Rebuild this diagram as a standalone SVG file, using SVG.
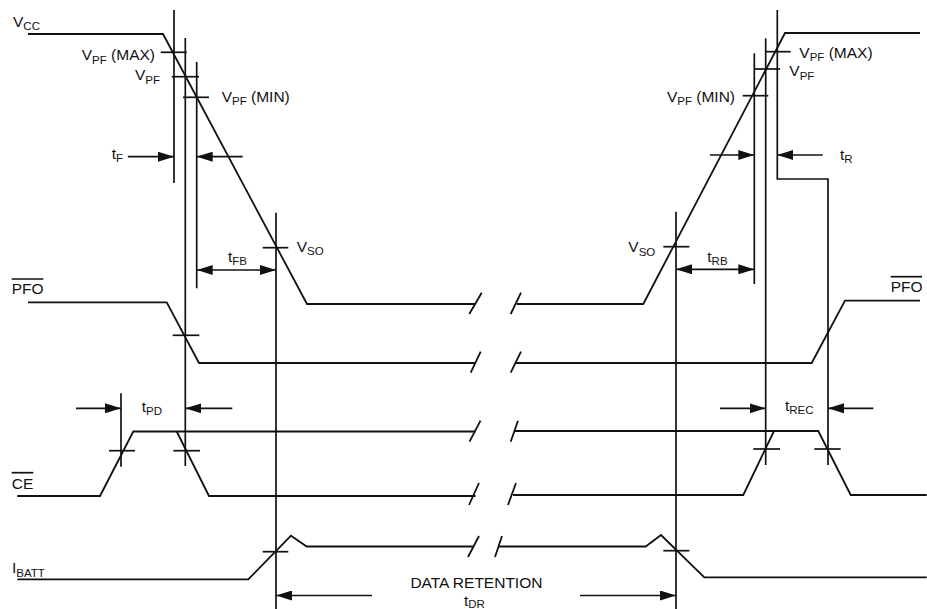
<svg xmlns="http://www.w3.org/2000/svg" width="927" height="609" viewBox="0 0 927 609">
<style>
.s{fill:none;stroke:#111;stroke-width:1.8;stroke-linejoin:miter}
.r{fill:none;stroke:#111;stroke-width:1.7}
.t{font-family:"Liberation Sans",Arial,sans-serif;font-size:15.5px;fill:#111}
.sub{font-size:11.5px}
.ar{fill:none;stroke:#111;stroke-width:1.7}
</style>
<defs>
<marker id="ah" viewBox="0 0 16 10" refX="16" refY="5" markerWidth="16" markerHeight="10" markerUnits="userSpaceOnUse" orient="auto-start-reverse">
<path d="M0,0 L16,5 L0,10 z" fill="#111"/>
</marker>
</defs>
<rect width="927" height="609" fill="#fff"/>

<g id="vcc">
<polyline class="s" points="28,34 163,34 307,304 475,304"/>
<line class="s" x1="469.3" y1="314" x2="481.7" y2="292.7"/>
<line class="s" x1="510.7" y1="314" x2="521" y2="292.7"/>
<polyline class="s" points="516.7,304 643.3,304 785,33 920,33"/>
<text class="t" x="13" y="26.5">V<tspan class="sub" dy="3.5">CC</tspan></text>
</g>

<g id="pfo">
<polyline class="s" points="28,302.3 166.7,302.3 199,363 476,363"/>
<line class="s" x1="470.7" y1="372.7" x2="480.7" y2="351.7"/>
<line class="s" x1="510.7" y1="372.7" x2="521" y2="351.7"/>
<polyline class="s" points="516,363 811.7,363 845,300.7 920,300.7"/>
<text class="t" x="11.7" y="294">PFO</text>
<line class="r" x1="11.7" y1="279" x2="43.3" y2="279"/>
<text class="t" x="890.7" y="291.7">PFO</text>
<line class="r" x1="890.7" y1="276.7" x2="922" y2="276.7"/>
</g>

<g id="ce">
<polyline class="s" points="17.3,496 100,496 133.3,431.5 475.5,431.5"/>
<polyline class="s" points="176.7,431.5 209,496 475.5,496"/>
<line class="s" x1="469.5" y1="441.7" x2="480.5" y2="420.7"/>
<line class="s" x1="510.7" y1="441.7" x2="518" y2="420.7"/>
<line class="s" x1="469" y1="505" x2="479" y2="483"/>
<line class="s" x1="508" y1="505" x2="516" y2="483"/>
<polyline class="s" points="514.5,431 818.3,431 850.7,495 926.7,495"/>
<polyline class="s" points="513,495 743.3,495 774,431"/>
<text class="t" x="11.7" y="488.5">CE</text>
<line class="r" x1="11.7" y1="472.7" x2="33.3" y2="472.7"/>
</g>

<g id="ibatt">
<polyline class="s" points="17.3,579.3 248.3,579.3 291,535.7 306.7,546.5 473.5,546.5"/>
<line class="s" x1="468" y1="557" x2="479" y2="536"/>
<line class="s" x1="495" y1="557" x2="502" y2="536"/>
<polyline class="s" points="498.5,546.5 645.7,546.5 661,535 704.3,577.3 926.7,577.3"/>
<text class="t" x="12" y="573">I<tspan class="sub" dy="3.5">BATT</tspan></text>
</g>

<g id="connectors">
<line class="r" x1="174" y1="10" x2="174" y2="183"/>
<line class="r" x1="185.3" y1="38" x2="185.3" y2="466"/>
<line class="r" x1="196.7" y1="62" x2="196.7" y2="288.3"/>
<line class="r" x1="276" y1="212.7" x2="276" y2="609"/>
<line class="r" x1="121" y1="393.3" x2="121" y2="466.7"/>
<polyline class="r" points="777.3,10 777.3,179 828,179 828,465"/>
<line class="r" x1="765.7" y1="38.3" x2="765.7" y2="465"/>
<line class="r" x1="754.3" y1="53.3" x2="754.3" y2="284"/>
<line class="r" x1="676" y1="211.7" x2="676" y2="609"/>
<line class="r" x1="160.7" y1="52.3" x2="186.7" y2="52.3"/>
<line class="r" x1="171.7" y1="76.7" x2="199" y2="76.7"/>
<line class="r" x1="183" y1="97.3" x2="209" y2="97.3"/>
<line class="r" x1="262.7" y1="247.7" x2="288.3" y2="247.7"/>
<line class="r" x1="172.7" y1="335.3" x2="199.3" y2="335.3"/>
<line class="r" x1="109" y1="450.7" x2="135" y2="450.7"/>
<line class="r" x1="173.3" y1="450.7" x2="200" y2="450.7"/>
<line class="r" x1="262.7" y1="551.7" x2="288.3" y2="551.7"/>
<line class="r" x1="765.7" y1="51.7" x2="790.7" y2="51.7"/>
<line class="r" x1="755" y1="69" x2="780" y2="69"/>
<line class="r" x1="742.7" y1="95.7" x2="768.3" y2="95.7"/>
<line class="r" x1="663.3" y1="246.7" x2="689.3" y2="246.7"/>
<line class="r" x1="753.3" y1="449" x2="780" y2="449"/>
<line class="r" x1="814.3" y1="449" x2="840.7" y2="449"/>
<line class="r" x1="663.3" y1="550.7" x2="689.3" y2="550.7"/>
<line class="ar" x1="128" y1="156.7" x2="174" y2="156.7" marker-end="url(#ah)"/>
<line class="ar" x1="242.7" y1="156.7" x2="196.7" y2="156.7" marker-end="url(#ah)"/>
<line class="ar" x1="196.7" y1="270" x2="276" y2="270" marker-start="url(#ah)" marker-end="url(#ah)"/>
<line class="ar" x1="76" y1="408.3" x2="121" y2="408.3" marker-end="url(#ah)"/>
<line class="ar" x1="232.3" y1="408.3" x2="185.3" y2="408.3" marker-end="url(#ah)"/>
<line class="ar" x1="710" y1="155" x2="754.3" y2="155" marker-end="url(#ah)"/>
<line class="ar" x1="822.7" y1="155" x2="777.3" y2="155" marker-end="url(#ah)"/>
<line class="ar" x1="676" y1="269.3" x2="754.3" y2="269.3" marker-start="url(#ah)" marker-end="url(#ah)"/>
<line class="ar" x1="720" y1="408.3" x2="765.7" y2="408.3" marker-end="url(#ah)"/>
<line class="ar" x1="873.3" y1="408.3" x2="828" y2="408.3" marker-end="url(#ah)"/>
<line class="ar" x1="372" y1="595.5" x2="276" y2="595.5" marker-end="url(#ah)"/>
<line class="ar" x1="580" y1="595.5" x2="676" y2="595.5" marker-end="url(#ah)"/>
</g>

<g id="labels">
<text class="t" x="155" y="60" text-anchor="end">V<tspan class="sub" dy="3.5">PF</tspan><tspan dy="-3.5"> (MAX)</tspan></text>
<text class="t" x="160" y="80" text-anchor="end">V<tspan class="sub" dy="3.5">PF</tspan></text>
<text class="t" x="221.7" y="101.7">V<tspan class="sub" dy="3.5">PF</tspan><tspan dy="-3.5"> (MIN)</tspan></text>
<text class="t" x="111.7" y="159">t<tspan class="sub" dy="3">F</tspan></text>
<text class="t" x="296.7" y="251.5">V<tspan class="sub" dy="3.5">SO</tspan></text>
<text class="t" x="228" y="261.5">t<tspan class="sub" dy="3">FB</tspan></text>
<text class="t" x="141.7" y="411.5">t<tspan class="sub" dy="3">PD</tspan></text>
<text class="t" x="799.3" y="57.5">V<tspan class="sub" dy="3.5">PF</tspan><tspan dy="-3.5"> (MAX)</tspan></text>
<text class="t" x="789.3" y="76">V<tspan class="sub" dy="3.5">PF</tspan></text>
<text class="t" x="735" y="101.7" text-anchor="end">V<tspan class="sub" dy="3.5">PF</tspan><tspan dy="-3.5"> (MIN)</tspan></text>
<text class="t" x="840" y="160">t<tspan class="sub" dy="3">R</tspan></text>
<text class="t" x="628.3" y="252">V<tspan class="sub" dy="3.5">SO</tspan></text>
<text class="t" x="707.3" y="261.5">t<tspan class="sub" dy="3">RB</tspan></text>
<text class="t" x="785" y="410.5">t<tspan class="sub" dy="3">REC</tspan></text>
<text class="t" x="476.4" y="588" text-anchor="middle">DATA RETENTION</text>
<text class="t" x="464" y="605.5">t<tspan class="sub" dy="2">DR</tspan></text>
</g>
</svg>
